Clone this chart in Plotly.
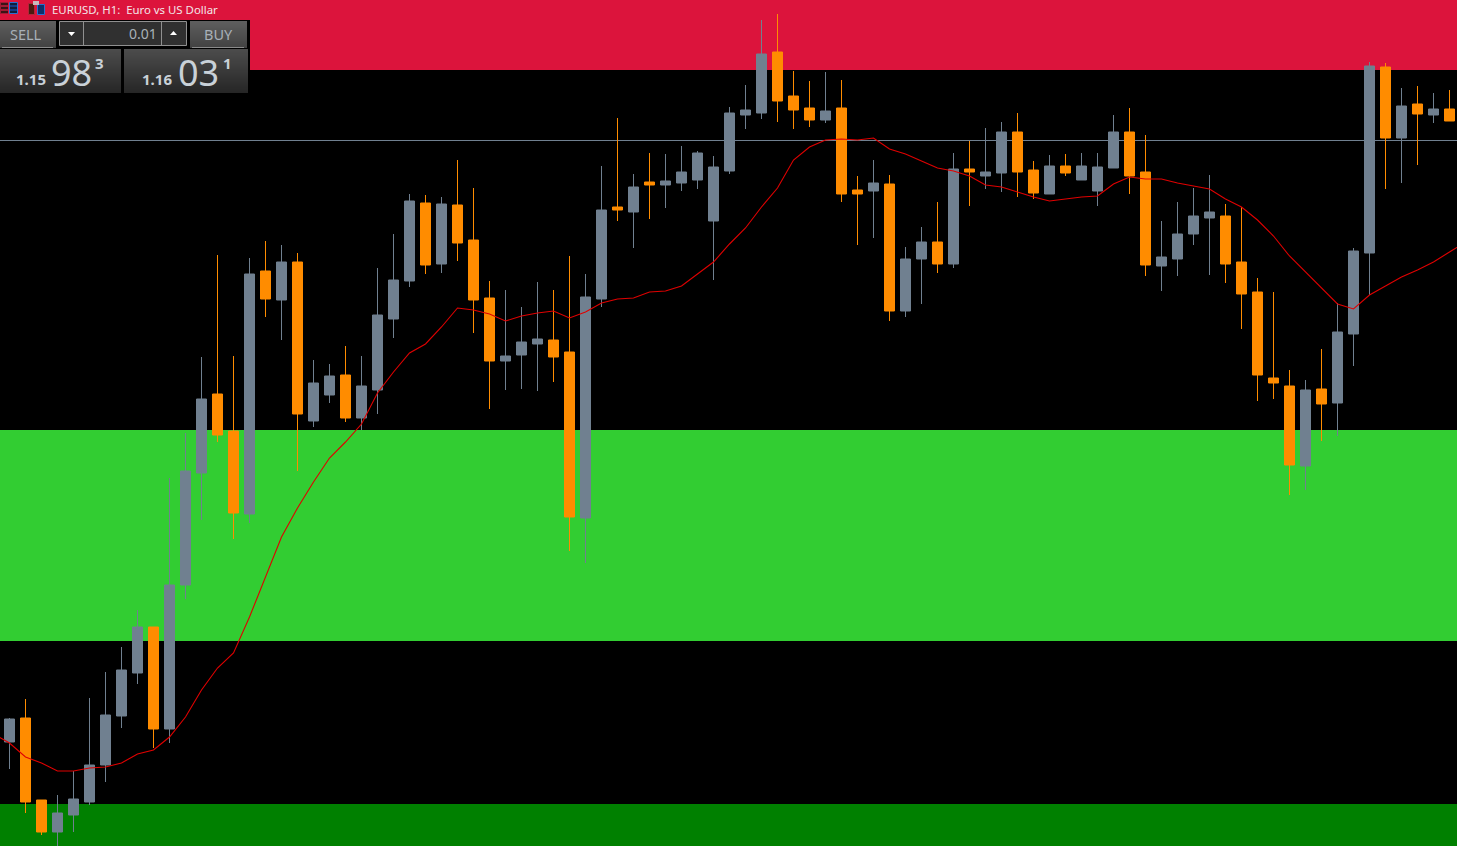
import plotly.graph_objects as go

WIDTH = 1457
HEIGHT = 846

opens = [1.14780, 1.14828, 1.14664, 1.14600, 1.14634, 1.14660, 1.14734, 1.14832, 1.14918, 1.15010,
         1.14806, 1.15094, 1.15318, 1.15476, 1.15402, 1.15236, 1.15722, 1.15664, 1.15740, 1.15422,
         1.15474, 1.15514, 1.15428, 1.15484, 1.15626, 1.15702, 1.15858, 1.15736, 1.15854, 1.15784,
         1.15668, 1.15542, 1.15554, 1.15576, 1.15584, 1.15560, 1.15228, 1.15666, 1.15850, 1.15840,
         1.15900, 1.15894, 1.15898, 1.15904, 1.15822, 1.15922, 1.16034, 1.16038, 1.16160, 1.16072,
         1.16048, 1.16024, 1.16048, 1.15884, 1.15882, 1.15896, 1.15642, 1.15746, 1.15780, 1.15736,
         1.15926, 1.15912, 1.15918, 1.16000, 1.15924, 1.15876, 1.15932, 1.15904, 1.15882, 1.15928,
         1.16000, 1.15920, 1.15732, 1.15746, 1.15796, 1.15828, 1.15832, 1.15740, 1.15680, 1.15508,
         1.15492, 1.15332, 1.15486, 1.15458, 1.15596, 1.15758, 1.16130, 1.15988, 1.16056, 1.16034,
         1.16046]
highs = [1.14828, 1.14866, 1.14664, 1.14674, 1.14722, 1.14868, 1.14920, 1.14970, 1.15044, 1.15010,
         1.15308, 1.15398, 1.15550, 1.15754, 1.15552, 1.15748, 1.15782, 1.15774, 1.15758, 1.15544,
         1.15536, 1.15572, 1.15552, 1.15728, 1.15796, 1.15876, 1.15874, 1.15870, 1.15944, 1.15888,
         1.15702, 1.15684, 1.15650, 1.15700, 1.15684, 1.15752, 1.15716, 1.15932, 1.16028, 1.15916,
         1.15958, 1.15956, 1.15972, 1.15962, 1.15952, 1.16050, 1.16094, 1.16224, 1.16236, 1.16122,
         1.16102, 1.16120, 1.16104, 1.15912, 1.15944, 1.15914, 1.15770, 1.15810, 1.15860, 1.15958,
         1.15982, 1.16008, 1.16020, 1.16038, 1.15942, 1.15954, 1.15956, 1.15958, 1.15958, 1.16034,
         1.16048, 1.15994, 1.15822, 1.15860, 1.15888, 1.15914, 1.15856, 1.15850, 1.15708, 1.15680,
         1.15524, 1.15504, 1.15566, 1.15658, 1.15768, 1.16140, 1.16138, 1.16088, 1.16092, 1.16078,
         1.16084]
lows = [1.14726, 1.14638, 1.14594, 1.14568, 1.14600, 1.14654, 1.14700, 1.14808, 1.14896, 1.14768,
        1.14778, 1.15066, 1.15224, 1.15380, 1.15186, 1.15218, 1.15630, 1.15584, 1.15322, 1.15410,
        1.15458, 1.15420, 1.15404, 1.15436, 1.15588, 1.15690, 1.15716, 1.15718, 1.15742, 1.15598,
        1.15446, 1.15484, 1.15486, 1.15482, 1.15500, 1.15162, 1.15138, 1.15650, 1.15822, 1.15768,
        1.15826, 1.15848, 1.15882, 1.15886, 1.15704, 1.15916, 1.16006, 1.16026, 1.16020, 1.16006,
        1.16010, 1.16018, 1.15860, 1.15774, 1.15788, 1.15622, 1.15630, 1.15656, 1.15718, 1.15728,
        1.15852, 1.15886, 1.15880, 1.15870, 1.15866, 1.15876, 1.15912, 1.15904, 1.15852, 1.15928,
        1.15876, 1.15712, 1.15682, 1.15712, 1.15774, 1.15714, 1.15698, 1.15606, 1.15462, 1.15466,
        1.15274, 1.15284, 1.15382, 1.15392, 1.15532, 1.15674, 1.15886, 1.15898, 1.15934, 1.16018,
        1.16022]
closes = [1.14826, 1.14660, 1.14600, 1.14638, 1.14666, 1.14734, 1.14834, 1.14924, 1.15010, 1.14806,
          1.15094, 1.15322, 1.15466, 1.15394, 1.15238, 1.15716, 1.15666, 1.15740, 1.15436, 1.15498,
          1.15512, 1.15428, 1.15492, 1.15634, 1.15704, 1.15862, 1.15734, 1.15856, 1.15778, 1.15664,
          1.15542, 1.15552, 1.15580, 1.15586, 1.15550, 1.15230, 1.15670, 1.15844, 1.15844, 1.15890,
          1.15894, 1.15902, 1.15920, 1.15958, 1.15930, 1.16038, 1.16044, 1.16156, 1.16062, 1.16044,
          1.16024, 1.16042, 1.15876, 1.15876, 1.15898, 1.15642, 1.15746, 1.15780, 1.15736, 1.15926,
          1.15920, 1.15920, 1.16000, 1.15920, 1.15878, 1.15932, 1.15918, 1.15932, 1.15930, 1.16000,
          1.15912, 1.15734, 1.15750, 1.15796, 1.15832, 1.15840, 1.15736, 1.15676, 1.15514, 1.15498,
          1.15334, 1.15484, 1.15456, 1.15600, 1.15762, 1.16132, 1.15988, 1.16052, 1.16036, 1.16046,
          1.16022]
# moving average, starts one bar before the window and ends one bar after it
ma_values = [1.14796, 1.14778, 1.14750, 1.14738, 1.14722, 1.14722, 1.14728, 1.14730, 1.14738, 1.14756,
             1.14764, 1.14790, 1.14830, 1.14884, 1.14928, 1.14958, 1.15030, 1.15110, 1.15190, 1.15248,
             1.15300, 1.15348, 1.15380, 1.15416, 1.15478, 1.15520, 1.15558, 1.15576, 1.15610, 1.15648,
             1.15644, 1.15636, 1.15622, 1.15632, 1.15638, 1.15642, 1.15628, 1.15640, 1.15658, 1.15666,
             1.15668, 1.15680, 1.15682, 1.15692, 1.15716, 1.15740, 1.15776, 1.15808, 1.15850, 1.15888,
             1.15944, 1.15970, 1.15984, 1.15986, 1.15984, 1.15988, 1.15966, 1.15956, 1.15942, 1.15928,
             1.15922, 1.15912, 1.15894, 1.15890, 1.15880, 1.15870, 1.15862, 1.15866, 1.15870, 1.15872,
             1.15896, 1.15910, 1.15906, 1.15906, 1.15898, 1.15892, 1.15886, 1.15866, 1.15850, 1.15824,
             1.15792, 1.15752, 1.15720, 1.15686, 1.15656, 1.15646, 1.15674, 1.15692, 1.15710, 1.15724,
             1.15740, 1.15760, 1.15780]

bars = list(range(len(opens)))
ma_bars = list(range(-1, len(ma_values) - 1))

price_min = 1.14572
price_max = 1.16264
bid_price = 1.15983
supply_zone = (1.16124, 1.16264)
demand_zone = (1.14982, 1.15404)
lower_zone = (1.14572, 1.14656)

UP = "#708090"
DOWN = "#FF8C00"


def px(x):
    return x / WIDTH


def py(y):
    return 1 - y / HEIGHT


def box(x0, y0, x1, y1, fill, line=None):
    return dict(type="rect", xref="paper", yref="paper", layer="above",
                x0=px(x0), x1=px(x1), y0=py(y0), y1=py(y1), fillcolor=fill,
                line=dict(width=1 if line else 0, color=line or fill))


def gradient(x0, y0, x1, y1, top, bottom):
    # plotly shapes have no gradient fill, paint overlapping bands top to bottom
    c0 = [int(top[i:i + 2], 16) for i in (1, 3, 5)]
    c1 = [int(bottom[i:i + 2], 16) for i in (1, 3, 5)]
    out = []
    rows = y1 - y0
    for s in range(rows):
        t = s / (rows - 1)
        col = "#%02x%02x%02x" % tuple(round(a + (b - a) * t) for a, b in zip(c0, c1))
        out.append(box(x0, y0 + s, x1, y1, col))
    return out


def label(text, x, y, size, color="#C9D1D8", anchor="left", family="Noto Sans"):
    return dict(text=text, xref="paper", yref="paper", x=px(x), y=py(y), showarrow=False,
                xanchor=anchor, yanchor="middle", align=anchor,
                font=dict(size=size, color=color, family=family), borderpad=0, borderwidth=0)


fig = go.Figure()

fig.add_trace(go.Candlestick(
    x=bars, open=opens, high=highs, low=lows, close=closes,
    increasing=dict(line=dict(color=UP, width=1), fillcolor=UP),
    decreasing=dict(line=dict(color=DOWN, width=1), fillcolor=DOWN),
    whiskerwidth=0, hoverinfo="skip", showlegend=False,
))
fig.add_trace(go.Scatter(
    x=ma_bars, y=ma_values, mode="lines", line=dict(color="#E00000", width=1.1),
    hoverinfo="skip", showlegend=False,
))

shapes = []
for (low, high), colour in [(supply_zone, "#DC143C"), (demand_zone, "#32CD32"), (lower_zone, "#008000")]:
    shapes.append(dict(type="rect", xref="paper", yref="y", layer="below", x0=0, x1=1,
                       y0=low, y1=high, fillcolor=colour, line=dict(width=0)))
shapes.append(dict(type="line", xref="paper", yref="y", layer="below", x0=0, x1=1,
                   y0=bid_price, y1=bid_price, line=dict(color=UP, width=1)))

# trade panel in the top left corner
shapes.append(box(0, 20, 250, 94, "#000000"))
shapes += gradient(0, 21, 56, 48, "#5E5E5E", "#424242")
shapes += gradient(190, 21, 247, 48, "#5E5E5E", "#424242")
shapes.append(box(2, 47, 53, 48, "#8A8A8A"))
shapes.append(box(192, 47, 244, 48, "#8A8A8A"))
shapes.append(box(59.5, 21.5, 186.5, 45.5, "#303030", "#909090"))
shapes.append(box(83, 22, 84, 45, "#909090"))
shapes.append(box(161, 22, 162, 45, "#909090"))
shapes += gradient(0, 49, 121, 93, "#4C4C4C", "#262626")
shapes += gradient(124, 49, 248, 93, "#4C4C4C", "#262626")
# small triangles of the lot spinner
shapes.append(dict(type="path", xref="paper", yref="paper", layer="above", fillcolor="#FFFFFF",
                   line=dict(width=0),
                   path="M %f,%f L %f,%f L %f,%f Z" % (px(68), py(32), px(75), py(32), px(71.5), py(36))))
shapes.append(dict(type="path", xref="paper", yref="paper", layer="above", fillcolor="#FFFFFF",
                   line=dict(width=0),
                   path="M %f,%f L %f,%f L %f,%f Z" % (px(170), py(35), px(177), py(35), px(173.5), py(31))))
# toolbar icons on the title strip
shapes.append(box(0, 2, 8, 14, "#A01C34"))
shapes.append(box(9.5, 2.5, 17.5, 13.5, "#143C86", "#2A6FD0"))
for row in (3, 7, 11):
    shapes.append(box(1, row, 8, row + 2, "#3A1416"))
    shapes.append(box(10, row, 17, row + 2, "#101E3C"))
shapes.append(box(28.5, 3.5, 34.5, 14.5, "#4A1A10", "#B02838"))
shapes.append(box(37.5, 4.5, 44.5, 14.5, "#0F2F6A", "#2A6FD0"))
shapes.append(box(33, 1, 39, 5, "#C8B8BC"))

annotations = [
    label("EURUSD, H1:\u00a0\u00a0Euro vs US Dollar", 52, 9.5, 11.4, color="#F2E6E8"),
    label("SELL", 26, 34, 14.5, anchor="center", color="#A8B0B8"),
    label("BUY", 218, 34, 14.5, anchor="center", color="#A8B0B8"),
    label("0.01", 157, 34, 14, anchor="right", color="#A8B0B8"),
    label("<b>1.15</b>", 16, 79, 15),
    label("98", 51, 72, 36),
    label("<b>3</b>", 95, 63, 15),
    label("<b>1.16</b>", 142, 79, 15),
    label("03", 178, 72, 36),
    label("<b>1</b>", 223, 63, 15),
]

fig.update_layout(
    width=WIDTH, height=HEIGHT,
    margin=dict(l=0, r=0, t=0, b=0),
    paper_bgcolor="#000000", plot_bgcolor="#000000",
    showlegend=False,
    boxgap=0.375, boxgroupgap=0,
    shapes=shapes, annotations=annotations,
    xaxis=dict(range=[-0.594, 90.469], visible=False, rangeslider=dict(visible=False), fixedrange=True),
    yaxis=dict(range=[price_min, price_max], visible=False, fixedrange=True),
)

fig.write_html("out.html", config=dict(displayModeBar=False),
               post_script="document.body.style.margin='0';document.body.style.background='#000';")
